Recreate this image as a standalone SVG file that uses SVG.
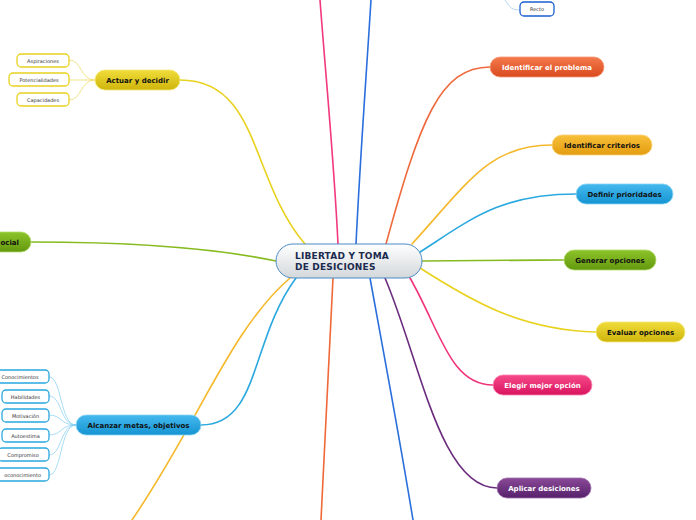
<svg xmlns="http://www.w3.org/2000/svg" width="696" height="520" viewBox="0 0 696 520">
<defs>
<linearGradient id="gCenter" x1="0" y1="0" x2="0" y2="1"><stop offset="0" stop-color="#ffffff"/><stop offset="1" stop-color="#d3d8db"/></linearGradient>
<linearGradient id="gRed" x1="0" y1="0" x2="0" y2="1"><stop offset="0" stop-color="#f47a4c"/><stop offset="1" stop-color="#d94a1e"/></linearGradient>
<linearGradient id="gOrange" x1="0" y1="0" x2="0" y2="1"><stop offset="0" stop-color="#f8c03a"/><stop offset="1" stop-color="#e39c10"/></linearGradient>
<linearGradient id="gBlue" x1="0" y1="0" x2="0" y2="1"><stop offset="0" stop-color="#45b9ee"/><stop offset="1" stop-color="#1594d2"/></linearGradient>
<linearGradient id="gGreen" x1="0" y1="0" x2="0" y2="1"><stop offset="0" stop-color="#8dc42a"/><stop offset="1" stop-color="#62980e"/></linearGradient>
<linearGradient id="gYellow" x1="0" y1="0" x2="0" y2="1"><stop offset="0" stop-color="#f0dc3a"/><stop offset="1" stop-color="#cfb50c"/></linearGradient>
<linearGradient id="gPink" x1="0" y1="0" x2="0" y2="1"><stop offset="0" stop-color="#f64a8a"/><stop offset="1" stop-color="#d9145f"/></linearGradient>
<linearGradient id="gPurple" x1="0" y1="0" x2="0" y2="1"><stop offset="0" stop-color="#8a4a98"/><stop offset="1" stop-color="#56206a"/></linearGradient>
</defs>
<style>
.c{fill:none;stroke-width:1.6;stroke-linecap:round}
.s{fill:none;stroke-width:0.7}
.lbl{font-family:"DejaVu Sans",Verdana,sans-serif;font-weight:bold;font-size:7px;text-anchor:middle}
.sm{font-family:"DejaVu Sans",Verdana,sans-serif;font-size:5px;fill:#333;text-anchor:middle}
.box{fill:#fff;stroke-width:1.3}
.ct{font-family:"DejaVu Sans",Verdana,sans-serif;font-weight:bold;font-size:9px;fill:#1b2a4e;letter-spacing:0.2px}
</style>
<g id="connectors">
<path class="c" stroke="#f2387f" d="M338,244 C334,160 326,80 320,0"/>
<path class="c" stroke="#2b6fdc" d="M356,244 C360,160 366,80 371,0"/>
<path class="c" stroke="#f06838" d="M333,278 C329,360 325,440 321,520"/>
<path class="c" stroke="#2b6fdc" d="M370,278 C385,360 400,440 413,520"/>
<path class="c" stroke="#ef6a3c" d="M386,244 C420,120 440,67 490,67"/>
<path class="c" stroke="#f5b82a" d="M412,244 C470,180 490,145 552,145"/>
<path class="c" stroke="#2aa8e0" d="M420,252 C470,220 500,194 576,194"/>
<path class="c" stroke="#86bb1f" d="M422,261 C480,261 520,260 564,260"/>
<path class="c" stroke="#e8d21f" d="M420,268 C470,300 520,330 596,332"/>
<path class="c" stroke="#f0337a" d="M410,278 C440,330 450,385 493,385"/>
<path class="c" stroke="#6b2c7e" d="M385,278 C420,360 440,488 497,488"/>
<path class="c" stroke="#e8d21f" d="M305,244 C250,180 260,80 180,80"/>
<path class="c" stroke="#86bb1f" d="M276,261 C200,245 100,242 31,242"/>
<path class="c" stroke="#2aa8e0" d="M296,278 C250,340 260,425 201,425"/>
<path class="c" stroke="#f5b82a" d="M290,278 C230,330 200,420 132,520"/>
<path class="s" stroke="#9cc3ef" d="M505,0 C510,8 512,10 520,10"/>
<path class="s" stroke="#ecd95a" d="M95,80 C80,80 82,60 69,60"/>
<path class="s" stroke="#ecd95a" d="M95,80 L69,80"/>
<path class="s" stroke="#ecd95a" d="M95,80 C80,80 82,100 69,100"/>
<path class="s" stroke="#7fcdf0" d="M76,425 C60,425 62,377 49,377"/>
<path class="s" stroke="#7fcdf0" d="M76,425 C60,425 62,396 49,396"/>
<path class="s" stroke="#7fcdf0" d="M76,425 C60,425 62,415 49,415"/>
<path class="s" stroke="#7fcdf0" d="M76,425 C60,425 62,435 49,435"/>
<path class="s" stroke="#7fcdf0" d="M76,425 C60,425 62,455 49,455"/>
<path class="s" stroke="#7fcdf0" d="M76,425 C60,425 62,475 49,475"/>
</g>
<g id="center">
<rect x="276" y="244" width="146" height="34" rx="17" fill="url(#gCenter)" stroke="#4a8ac4" stroke-width="1"/>
<text class="ct" x="295" y="259">LIBERTAD Y TOMA</text>
<text class="ct" x="295" y="270">DE DESICIONES</text>
</g>
<g id="n-problema"><rect x="490" y="57" width="114" height="20" rx="10" fill="url(#gRed)" stroke="#f59a78" stroke-width="0.8"/><text class="lbl" x="547" y="70" fill="#fff">Identificar el problema</text></g>
<g id="n-criterios"><rect x="552" y="135" width="100" height="20" rx="10" fill="url(#gOrange)" stroke="#fbd27a" stroke-width="0.8"/><text class="lbl" x="602" y="148" fill="#111">Identificar criterios</text></g>
<g id="n-prioridades"><rect x="576" y="184" width="97" height="20" rx="10" fill="url(#gBlue)" stroke="#8ad4f5" stroke-width="0.8"/><text class="lbl" x="624.5" y="197" fill="#111">Definir prioridades</text></g>
<g id="n-generar"><rect x="564" y="250" width="92" height="20" rx="10" fill="url(#gGreen)" stroke="#b3dc6a" stroke-width="0.8"/><text class="lbl" x="610" y="263" fill="#111">Generar opciones</text></g>
<g id="n-evaluar"><rect x="596" y="322" width="89" height="20" rx="10" fill="url(#gYellow)" stroke="#f5e87a" stroke-width="0.8"/><text class="lbl" x="640.5" y="335" fill="#111">Evaluar opciones</text></g>
<g id="n-elegir"><rect x="493" y="375" width="99" height="20" rx="10" fill="url(#gPink)" stroke="#fa86b2" stroke-width="0.8"/><text class="lbl" x="542.5" y="388" fill="#fff">Elegir mejor opción</text></g>
<g id="n-aplicar"><rect x="497" y="478" width="94" height="20" rx="10" fill="url(#gPurple)" stroke="#a070b0" stroke-width="0.8"/><text class="lbl" x="544" y="491" fill="#fff">Aplicar desiciones</text></g>
<g id="n-actuar"><rect x="95" y="70" width="85" height="20" rx="10" fill="url(#gYellow)" stroke="#f5e87a" stroke-width="0.8"/><text class="lbl" x="137.5" y="83" fill="#111">Actuar y decidir</text></g>
<g id="n-alcanzar"><rect x="76" y="415" width="125" height="20" rx="10" fill="url(#gBlue)" stroke="#8ad4f5" stroke-width="0.8"/><text class="lbl" x="138.5" y="428" fill="#111">Alcanzar metas, objetivos</text></g>
<g id="n-social"><rect x="-60" y="232" width="91" height="20" rx="10" fill="url(#gGreen)" stroke="#b3dc6a" stroke-width="0.8"/><text class="lbl" x="19" y="245" fill="#111" style="text-anchor:end">ocial</text></g>
<g id="n-recto"><rect x="520" y="2" width="34" height="14" rx="4" class="box" stroke="#1a5fd0"/><text class="sm" x="537" y="11">Recto</text></g>
<g id="n-aspiraciones"><rect x="17" y="54" width="52" height="13" rx="4" class="box" stroke="#e8d21f"/><text class="sm" x="43" y="62.5">Aspiraciones</text></g>
<g id="n-potencialidades"><rect x="9" y="73" width="60" height="13" rx="4" class="box" stroke="#e8d21f"/><text class="sm" x="39" y="81.5">Potencialidades</text></g>
<g id="n-capacidades"><rect x="17" y="93" width="52" height="13" rx="4" class="box" stroke="#e8d21f"/><text class="sm" x="43" y="101.5">Capacidades</text></g>
<g id="n-conocimientos"><rect x="-6" y="370" width="55" height="13" rx="4" class="box" stroke="#2aa8e0"/><text class="sm" x="20" y="378.5">Conocimientos</text></g>
<g id="n-habilidades"><rect x="2" y="390" width="47" height="13" rx="4" class="box" stroke="#2aa8e0"/><text class="sm" x="25.5" y="398.5">Habilidades</text></g>
<g id="n-motivacion"><rect x="2" y="409" width="47" height="13" rx="4" class="box" stroke="#2aa8e0"/><text class="sm" x="25.5" y="417.5">Motivación</text></g>
<g id="n-autoestima"><rect x="2" y="429" width="47" height="13" rx="4" class="box" stroke="#2aa8e0"/><text class="sm" x="25.5" y="437.5">Autoestima</text></g>
<g id="n-compromiso"><rect x="-2" y="448" width="51" height="13" rx="4" class="box" stroke="#2aa8e0"/><text class="sm" x="23" y="456.5">Compromiso</text></g>
<g id="n-autoconocimiento"><rect x="-20" y="468" width="69" height="13" rx="4" class="box" stroke="#2aa8e0"/><text class="sm" x="41" y="476.5" style="text-anchor:end">oconocimiento</text></g>
</svg>
